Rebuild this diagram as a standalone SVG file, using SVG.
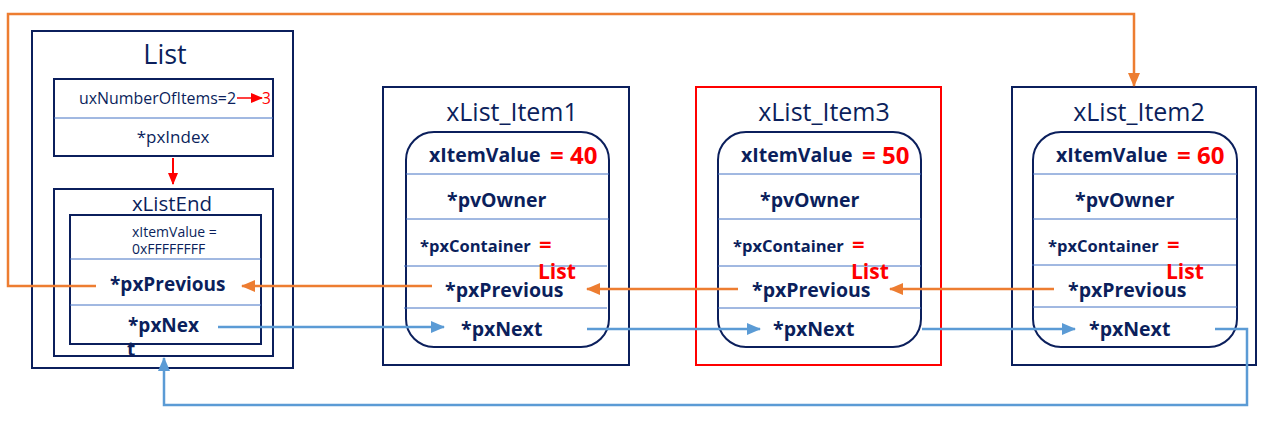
<svg xmlns="http://www.w3.org/2000/svg" width="1266" height="426" viewBox="0 0 1266 426">
<defs>
<marker id="ao" markerWidth="14" markerHeight="12" refX="13" refY="6" orient="auto" markerUnits="userSpaceOnUse"><path d="M0,0 L14,6 L0,12 Z" fill="#ED7D31"/></marker>
<marker id="ab" markerWidth="14" markerHeight="12" refX="13" refY="6" orient="auto" markerUnits="userSpaceOnUse"><path d="M0,0 L14,6 L0,12 Z" fill="#5B9BD5"/></marker>
<marker id="ar" markerWidth="12" markerHeight="10" refX="11" refY="5" orient="auto" markerUnits="userSpaceOnUse"><path d="M0,0 L12,5 L0,10 Z" fill="#FF0000"/></marker>
</defs>
<style>
text{font-family:"Open Sans","Liberation Sans",sans-serif;fill:#0B1F5C}
.box{fill:none;stroke:#0B1F5C;stroke-width:2}
.rbox{fill:none;stroke:#FF0000;stroke-width:2}
.div{stroke:#4472C4;stroke-width:1}
.t{font-size:25px;text-anchor:middle}
.b{font-weight:bold;font-size:19.5px}
.bs{font-weight:bold;font-size:16.5px}
.red{fill:#FF0000;font-weight:bold}
.or{fill:none;stroke:#ED7D31;stroke-width:2.5}
.bl{fill:none;stroke:#5B9BD5;stroke-width:2.5}
</style>
<rect width="1266" height="426" fill="#FFFFFF"/>

<g id="list">
<rect class="box" x="32" y="31" width="261" height="337"/>
<text x="165" y="64" style="font-size:27px;text-anchor:middle">List</text>
<rect class="box" x="54" y="79" width="219" height="77"/>
<line class="div" x1="54" y1="118" x2="273" y2="118"/>
<text x="79" y="104" style="font-size:15.5px" textLength="157" lengthAdjust="spacingAndGlyphs">uxNumberOfItems=2</text>
<line x1="237" y1="98" x2="262" y2="98" stroke="#FF0000" stroke-width="1.5" marker-end="url(#ar)"/>
<text x="262" y="104" style="font-size:15.5px;fill:#FF0000">3</text>
<text x="173" y="143" style="font-size:17px;text-anchor:middle">*pxIndex</text>
<line x1="173" y1="158" x2="173" y2="184" stroke="#FF0000" stroke-width="2" marker-end="url(#ar)"/>
</g>

<g id="xListEnd">
<rect class="box" x="54" y="189" width="219" height="167"/>
<text x="172" y="211" style="font-size:20.5px;text-anchor:middle">xListEnd</text>
<rect class="box" x="70" y="215" width="191" height="129"/>
<line class="div" x1="70" y1="259" x2="261" y2="259"/>
<line class="div" x1="70" y1="305" x2="261" y2="305"/>
<text x="132" y="237" style="font-size:14px">xItemValue =</text>
<text x="132" y="254" style="font-size:14px">0xFFFFFFFF</text>
<text x="110" y="291" class="b" style="font-size:19px">*pxPrevious</text>
<text x="128" y="332" class="b" style="font-size:19px">*pxNex</text>
<text x="127" y="356" class="b" style="font-size:19px">t</text>
</g>

<g id="item1">
<rect class="box" x="383" y="87" width="246" height="278"/>
<text x="512" y="121" class="t">xList_Item1</text>
<rect class="box" x="406" y="132" width="203" height="215" rx="28"/>
<line class="div" x1="406" y1="174" x2="609" y2="174"/>
<line class="div" x1="406" y1="219" x2="609" y2="219"/>
<line class="div" x1="404" y1="266" x2="607" y2="266"/>
<line class="div" x1="404" y1="308" x2="607" y2="308"/>
<text x="429" y="162" class="b">xItemValue</text>
<text x="550" y="164" class="red" style="font-size:24px">= 40</text>
<text x="447" y="207" class="b">*pvOwner</text>
<text x="420" y="252" class="bs">*pxContainer</text>
<text x="539" y="252" class="red" style="font-size:22px">=</text>
<text x="538" y="279" class="red" style="font-size:21px">List</text>
<text x="445" y="297" class="b">*pxPrevious</text>
<text x="461" y="336" class="b">*pxNext</text>
</g>

<g id="item3">
<rect class="rbox" x="696" y="87" width="245" height="278"/>
<text x="824" y="121" class="t">xList_Item3</text>
<rect class="box" x="718" y="132" width="203" height="215" rx="28"/>
<line class="div" x1="718" y1="174" x2="921" y2="174"/>
<line class="div" x1="718" y1="219" x2="921" y2="219"/>
<line class="div" x1="718" y1="266" x2="921" y2="266"/>
<line class="div" x1="718" y1="308" x2="921" y2="308"/>
<text x="741" y="162" class="b">xItemValue</text>
<text x="862" y="164" class="red" style="font-size:24px">= 50</text>
<text x="760" y="207" class="b">*pvOwner</text>
<text x="733" y="252" class="bs">*pxContainer</text>
<text x="852" y="252" class="red" style="font-size:22px">=</text>
<text x="851" y="279" class="red" style="font-size:21px">List</text>
<text x="752" y="297" class="b">*pxPrevious</text>
<text x="773" y="336" class="b">*pxNext</text>
</g>

<g id="item2">
<rect class="box" x="1012" y="87" width="244" height="278"/>
<text x="1139" y="121" class="t">xList_Item2</text>
<rect class="box" x="1033" y="132" width="204" height="215" rx="28"/>
<line class="div" x1="1033" y1="174" x2="1237" y2="174"/>
<line class="div" x1="1033" y1="219" x2="1237" y2="219"/>
<line class="div" x1="1032" y1="265" x2="1236" y2="265"/>
<line class="div" x1="1033" y1="307" x2="1237" y2="307"/>
<text x="1056" y="162" class="b">xItemValue</text>
<text x="1177" y="164" class="red" style="font-size:24px">= 60</text>
<text x="1075" y="207" class="b">*pvOwner</text>
<text x="1048" y="252" class="bs">*pxContainer</text>
<text x="1167" y="252" class="red" style="font-size:22px">=</text>
<text x="1166" y="279" class="red" style="font-size:21px">List</text>
<text x="1068" y="297" class="b">*pxPrevious</text>
<text x="1089" y="336" class="b">*pxNext</text>
</g>

<g id="connectors">
<polyline class="or" points="96,286 8,286 8,14 1134,14 1134,86" marker-end="url(#ao)"/>
<line class="or" x1="432" y1="286" x2="242" y2="286" marker-end="url(#ao)"/>
<line class="or" x1="738" y1="289" x2="587" y2="289" marker-end="url(#ao)"/>
<line class="or" x1="1054" y1="289" x2="890" y2="289" marker-end="url(#ao)"/>
<line class="bl" x1="218" y1="327" x2="444" y2="327" marker-end="url(#ab)"/>
<line class="bl" x1="587" y1="329" x2="760" y2="329" marker-end="url(#ab)"/>
<line class="bl" x1="922" y1="329" x2="1075" y2="329" marker-end="url(#ab)"/>
<polyline class="bl" points="1215,329 1247,329 1247,405 164,405 164,358" marker-end="url(#ab)"/>
</g>
</svg>
